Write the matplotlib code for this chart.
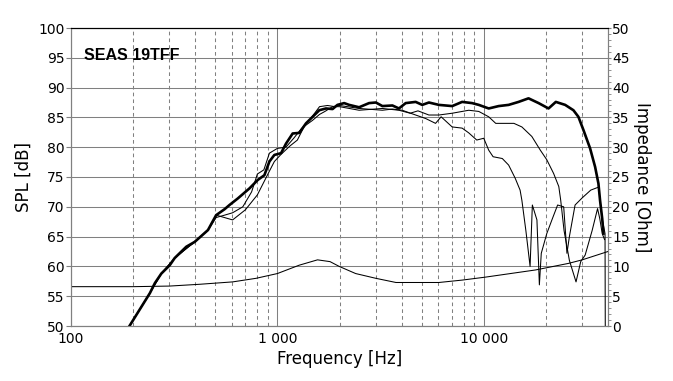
import numpy as np
import matplotlib
matplotlib.use("Agg")
import matplotlib.pyplot as plt
from matplotlib.ticker import FixedLocator, NullFormatter, MultipleLocator

# on-axis SPL (thick)
f_on = [192, 241, 255, 274, 301, 318, 362, 397, 428, 461, 505, 555, 586, 643, 733, 803,
        865, 915, 967, 1042, 1101, 1186, 1277, 1376, 1482, 1596, 1719, 1851, 1955, 2107,
        2227, 2489, 2782, 3000, 3228, 3609, 3883, 4186, 4677, 5035, 5423, 6063, 7033,
        7857, 8777, 9460, 10570, 11810, 13200, 14750, 16480, 18440, 20600, 22350, 24800,
        27200, 28750, 30400, 32760, 34640, 35950, 36600, 37500, 38000]
spl_on = [50.0, 55.5, 57.2, 58.8, 60.2, 61.4, 63.3, 64.1, 65.1, 66.1, 68.6, 69.6, 70.3, 71.4,
          73.1, 74.5, 75.3, 77.6, 78.7, 79.0, 80.6, 82.3, 82.4, 84.0, 85.1, 86.2, 86.5, 86.4,
          87.1, 87.4, 87.1, 86.7, 87.4, 87.5, 86.9, 87.0, 86.5, 87.4, 87.6, 87.1, 87.5, 87.1,
          86.9, 87.6, 87.4, 87.1, 86.5, 86.9, 87.1, 87.6, 88.2, 87.4, 86.5, 87.6, 87.1, 86.2,
          85.1, 82.9, 79.8, 76.7, 73.9, 71.1, 68.0, 65.5]

# 30 deg off-axis (thin)
f_30 = [192, 241, 274, 318, 397, 461, 505, 555, 607, 680, 750, 800, 860, 915, 1000, 1100,
        1200, 1300, 1450, 1600, 1750, 1900, 2000, 2489, 3228, 3883, 4400, 4800, 5423, 6063,
        7033, 7860, 8460, 9460, 10570, 11430, 12300, 14000, 15300, 17100, 18800, 20200,
        21800, 23100, 23600, 24500, 26000, 28000, 29500, 31000, 33500, 35600, 36500, 37500,
        38500]
spl_30 = [50.0, 55.5, 58.8, 61.4, 64.1, 66.1, 68.2, 68.6, 69.0, 70.0, 72.5, 75.5, 76.2, 79.0,
          79.8, 80.0, 81.5, 83.0, 84.8, 86.8, 87.0, 86.8, 86.8, 86.2, 86.5, 86.2, 85.7, 86.1,
          85.4, 85.4, 85.7, 86.0, 86.2, 86.0, 85.1, 84.0, 84.0, 84.0, 83.4, 81.8, 79.5, 77.9,
          75.6, 73.4, 71.1, 66.0, 61.0, 57.4, 60.8, 61.9, 66.0, 69.7, 68.0, 65.5, 64.5]

# 60 deg off-axis (thin)
f_60 = [192, 241, 274, 318, 397, 461, 505, 607, 700, 800, 900, 967, 1042, 1150, 1250, 1350,
        1480, 1600, 1700, 1850, 2000, 2489, 3228, 3609, 4027, 4677, 5240, 5840, 6215, 7030,
        7860, 8460, 9250, 10000, 10570, 11100, 12300, 13200, 14200, 15000, 15300, 16000,
        16770, 17200, 18100, 18600, 19000, 20200, 21500, 22800, 24400, 25300, 26000, 27700,
        30000, 33000, 36000, 37500, 38700, 38800]
spl_60 = [50.0, 55.5, 58.8, 61.4, 64.1, 66.1, 68.6, 67.8, 69.5, 72.0, 75.5, 77.6, 78.8, 80.2,
          81.2, 83.5, 84.5, 85.5, 86.0, 86.8, 87.0, 86.5, 86.2, 86.4, 86.2, 85.4, 84.8, 84.0,
          85.1, 83.4, 83.2, 82.4, 81.2, 81.5, 79.5, 78.4, 78.1, 77.0, 74.8, 72.8, 71.1, 66.0,
          60.0, 70.3, 67.8, 56.9, 62.2, 65.5, 68.0, 70.3, 70.0, 62.2, 65.0, 70.3, 71.5, 72.8,
          73.3, 68.0, 65.5, 50.0]

# impedance (right axis)
f_imp = [100, 200, 300, 420, 607, 788, 1000, 1275, 1565, 1800, 1993, 2395, 3000, 3756, 5000,
         6060, 7850, 10190, 17800, 25700, 30000, 40000]
ohm = [6.6, 6.6, 6.7, 7.0, 7.4, 8.0, 8.8, 10.2, 11.1, 10.8, 10.0, 8.8, 8.0, 7.3, 7.3, 7.3,
       7.7, 8.2, 9.4, 10.5, 11.1, 12.5]

x_ticks = [100, 1000, 10000]
x_labels = ["100", "1 000", "10 000"]
x_minor = [200, 300, 400, 500, 600, 700, 800, 900, 2000, 3000, 4000, 5000, 6000, 7000,
           8000, 9000, 20000, 30000]

grey = "#808080"
fig = plt.figure(figsize=(6.73, 3.81), dpi=100)
ax = fig.add_axes([71/673, 1-326/381, (608-71)/673, (326-28)/381])
ax.set_xscale("log")
ax.set_xlim(100, 40000)
ax.set_ylim(50, 100)

ax.xaxis.set_major_locator(FixedLocator(x_ticks))
ax.xaxis.set_minor_locator(FixedLocator(x_minor))
ax.set_xticklabels(x_labels)
ax.xaxis.set_minor_formatter(NullFormatter())
ax.yaxis.set_major_locator(MultipleLocator(5))
ax.grid(which="major", color=grey, lw=0.75, ls="-")
ax.grid(which="minor", axis="x", color=grey, lw=0.75, ls=(0, (3.5, 3)))
ax.tick_params(axis="x", which="both", length=0, pad=4, labelsize=10)
ax.tick_params(axis="y", which="both", length=3.5, pad=1, color=grey, labelsize=10)

ax.plot(f_on, spl_on, color="black", lw=1.9, zorder=5)
ax.plot(f_30, spl_30, color="black", lw=0.75, zorder=4)
ax.plot(f_60, spl_60, color="black", lw=0.75, zorder=4)

ax2 = ax.twinx()
ax2.set_ylim(0, 50)
ax2.yaxis.set_major_locator(MultipleLocator(5))
ax2.yaxis.set_minor_locator(MultipleLocator(1))
ax2.tick_params(axis="y", which="major", length=2.5, pad=0.5, color=grey, labelsize=10)
ax2.tick_params(axis="y", which="minor", length=1.8, color=grey)
ax2.plot(f_imp, ohm, color="black", lw=0.75)

for a in (ax, ax2):
    for s in ("left", "right", "bottom"):
        a.spines[s].set_color(grey)
    a.spines["top"].set_color("black")

ax.set_xlabel("Frequency [Hz]", fontsize=12, labelpad=3)
ax.set_ylabel("SPL [dB]", fontsize=12, labelpad=4)
ax2.set_ylabel("Impedance [Ohm]", fontsize=12, rotation=270, labelpad=15)

ax.text(84/673, 1-55/381, "SEAS 19TFF", transform=fig.transFigure, family="Liberation Sans",
        fontweight="bold", fontsize=11.5, va="center", ha="left")

fig.savefig("out.png", dpi=100)
